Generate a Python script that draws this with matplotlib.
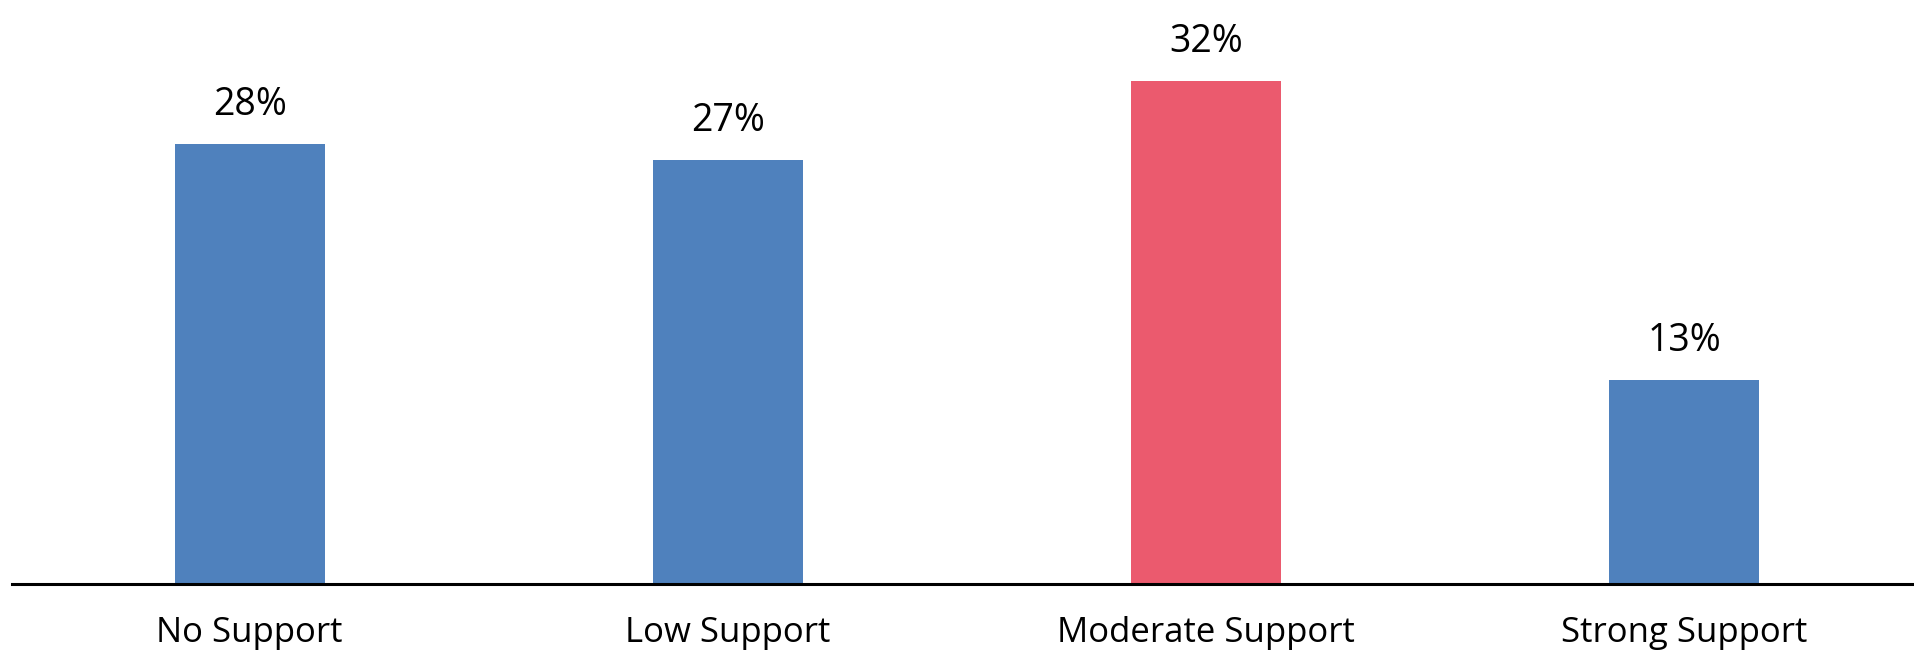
import matplotlib
matplotlib.use("Agg")
import matplotlib.pyplot as plt

categories = ["No Support", "Low Support", "Moderate Support", "Strong Support"]
values = [28, 27, 32, 13]
colors = ["#4F81BD", "#4F81BD", "#EB5A6E", "#4F81BD"]

plt.rcParams['font.family'] = ['Open Sans', 'DejaVu Sans']

fig = plt.figure(figsize=(19.15, 6.58), dpi=100)
ax = fig.add_axes([12 / 1915, 74 / 658, 1 - 12 / 1915, 584 / 658])

x = list(range(len(categories)))
bars = ax.bar(x, values, width=0.314, color=colors)

for xi, v in zip(x, values):
    ax.annotate(f"{v}%", (xi, v), xytext=(0, 20), textcoords="offset pixels",
                ha="center", va="bottom", fontsize=27, color="black")

ax.set_xlim(-0.497, 3.483)
ax.set_ylim(0, 37.15)
ax.set_xticks(x)
ax.set_xticklabels(categories, fontsize=25)
ax.tick_params(axis="x", length=0, pad=23)
ax.set_yticks([])
for s in ["top", "right", "left"]:
    ax.spines[s].set_visible(False)
ax.spines["bottom"].set_linewidth(2.2)
ax.spines["bottom"].set_color("black")

fig.savefig("out.png", dpi=100)
